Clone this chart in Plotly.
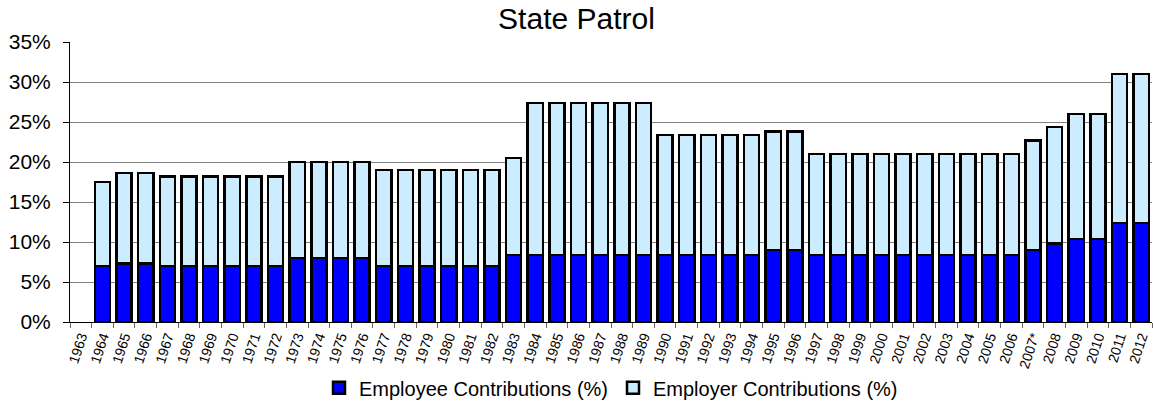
import plotly.graph_objects as go

years = ["1963", "1964", "1965", "1966", "1967", "1968", "1969", "1970", "1971", "1972",
         "1973", "1974", "1975", "1976", "1977", "1978", "1979", "1980", "1981", "1982",
         "1983", "1984", "1985", "1986", "1987", "1988", "1989", "1990", "1991", "1992",
         "1993", "1994", "1995", "1996", "1997", "1998", "1999", "2000", "2001", "2002",
         "2003", "2004", "2005", "2006", "2007*", "2008", "2009", "2010", "2011", "2012"]

employee = [None, 7.0, 7.3, 7.3, 7.0, 7.0, 7.0, 7.0, 7.0, 7.0,
            8.0, 8.0, 8.0, 8.0, 7.0, 7.0, 7.0, 7.0, 7.0, 7.0,
            8.4, 8.4, 8.4, 8.4, 8.4, 8.4, 8.4, 8.4, 8.4, 8.4,
            8.4, 8.4, 9.0, 9.0, 8.4, 8.4, 8.4, 8.4, 8.4, 8.4,
            8.4, 8.4, 8.4, 8.4, 9.0, 9.8, 10.4, 10.4, 12.4, 12.4]

employer = [None, 10.5, 11.3, 11.3, 11.2, 11.2, 11.2, 11.2, 11.2, 11.2,
            12.0, 12.0, 12.0, 12.0, 12.0, 12.0, 12.0, 12.0, 12.0, 12.0,
            12.1, 19.0, 19.0, 19.0, 19.0, 19.0, 19.0, 15.0, 15.0, 15.0,
            15.0, 15.0, 14.8, 14.8, 12.6, 12.6, 12.6, 12.6, 12.6, 12.6,
            12.6, 12.6, 12.6, 12.6, 13.7, 14.6, 15.6, 15.6, 18.6, 18.6]

y_ticks = [0, 5, 10, 15, 20, 25, 30, 35]
y_tick_labels = ["0%", "5%", "10%", "15%", "20%", "25%", "30%", "35%"]

FONT = "Liberation Sans, Arial, sans-serif"

fig = go.Figure()
fig.add_trace(go.Bar(
    x=years, y=employee, name="Employee Contributions (%)",
    marker=dict(color="#0000FF", line=dict(color="#000000", width=2.5)),
))
fig.add_trace(go.Bar(
    x=years, y=employer, name="Employer Contributions (%)",
    marker=dict(color="#CCECFF", line=dict(color="#000000", width=2.5)),
))

fig.update_layout(
    barmode="stack",
    bargap=0.3,
    width=1153, height=408,
    margin=dict(l=70, r=1, t=42, b=82),
    paper_bgcolor="white",
    plot_bgcolor="white",
    font=dict(family=FONT, color="#000000"),
    title=dict(text="State Patrol", x=0.5, xref="container", xanchor="center",
               y=0.955, yanchor="middle", font=dict(size=30, family=FONT)),
    legend=dict(orientation="h", x=0.5, xanchor="center", y=-0.235, yanchor="middle",
                font=dict(size=20, family=FONT), traceorder="normal",
                itemwidth=30, tracegroupgap=0),
    xaxis=dict(
        type="category",
        tickangle=-72,
        tickfont=dict(size=14, family=FONT),
        showline=True, linecolor="#000000", linewidth=1,
        ticks="outside", tickson="boundaries", ticklen=5, tickcolor="#666666",
        showgrid=False,
    ),
    yaxis=dict(
        range=[0, 35],
        tickvals=y_ticks, ticktext=y_tick_labels,
        tickfont=dict(size=21, family=FONT),
        showline=True, linecolor="#000000", linewidth=1,
        ticks="outside", ticklen=6, tickcolor="#000000",
        ticklabelstandoff=8,
        showgrid=True, gridcolor="#808080", gridwidth=1,
        zeroline=False,
    ),
)

fig.write_html("out.html")
